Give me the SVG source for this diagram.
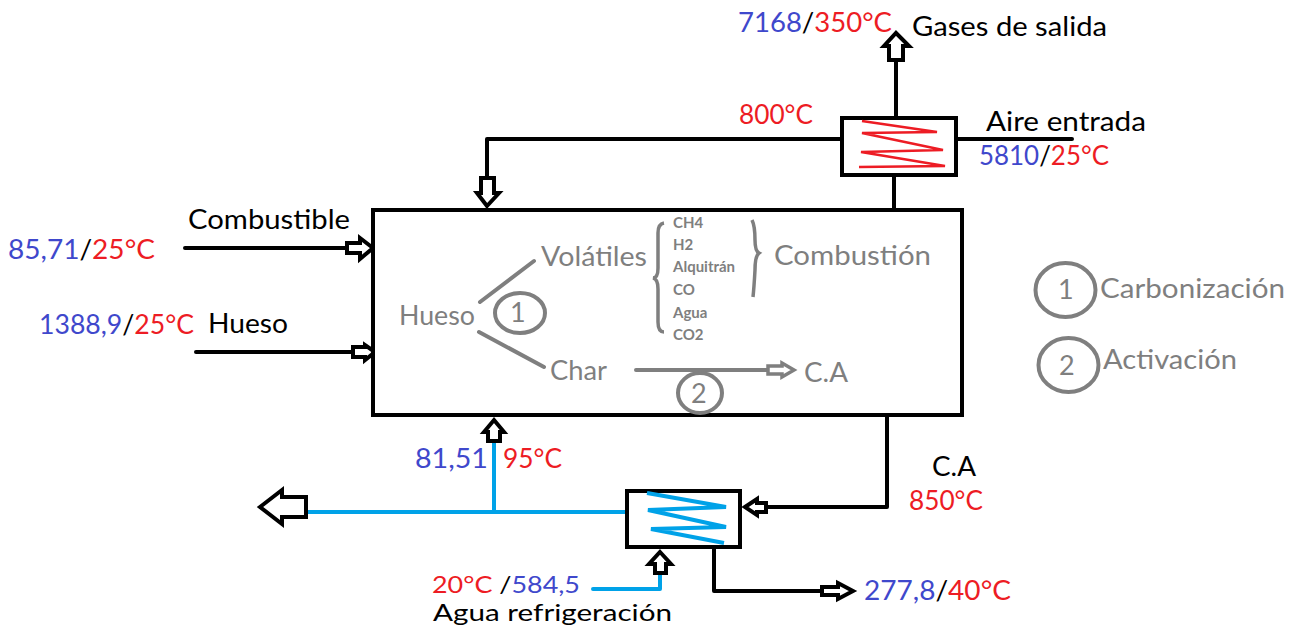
<svg xmlns="http://www.w3.org/2000/svg" width="1296" height="628" viewBox="0 0 1296 628">
<style>
text{font-family:"Lato","Carlito","Liberation Sans",sans-serif;font-size:27px;fill:#000}
.g{fill:#7f7f7f}.b{fill:#3f48cc}.r{fill:#ed1c24}.k{fill:#000}
.s{font-size:15px;font-weight:700;fill:#7f7f7f}
.t{font-size:24px}
.u{font-size:23px}
.p{fill:none;stroke:#000;stroke-width:4;stroke-linecap:round;stroke-linejoin:round}
.w{fill:none;stroke:#00a2e8;stroke-width:4;stroke-linejoin:round}
.y{fill:none;stroke:#7f7f7f;stroke-width:4;stroke-linecap:round}
.a{fill:#fff;stroke:#000;stroke-width:4;stroke-linejoin:miter}
.box{fill:#fff;stroke:#000;stroke-width:4}
.c{fill:none;stroke:#7f7f7f;stroke-width:4}
</style>
<rect width="1296" height="628" fill="#fff"/>
<g id="connectors">
<path class="p" d="M896 60V117"/>
<path class="p" d="M894 175V210"/>
<path class="p" d="M957 139H1072"/>
<path class="p" d="M841 139H487V178"/>
<path class="p" d="M185 248H347"/>
<path class="p" d="M196 352H353"/>
<path class="p" d="M887 415V507H766"/>
<path class="p" d="M714 548V591H822"/>
<path class="w" d="M305 512H626"/>
<path class="w" d="M494 441V512"/>
<path class="w" d="M593 589H660V573" stroke-linecap="round"/>
<polygon class="a" points="896,33 909,46 903,46 903,60 889,60 889,46 884,46"/>
<polygon class="a" points="487,206 477,193 481,193 481,178 494,178 494,193 499,193"/>
<polygon class="a" points="373,248 360,238 360,243 347,243 347,253 360,253 360,259"/>
<polygon class="a" points="375,352 365,345 365,347 353,347 353,357 365,357 365,360"/>
<polygon class="a" points="494,420 504,432 500,432 500,441 488,441 488,432 484,432"/>
<polygon class="a" points="260,507 282,490 282,497 306,497 306,517 282,517 282,524"/>
<polygon class="a" points="745,507 757,499 757,503 766,503 766,512 757,512 757,515"/>
<polygon class="a" points="660,552 671,564 666,564 666,573 655,573 655,564 649,564"/>
<polygon class="a" points="853,591 838,583 838,587 822,587 822,595 838,595 838,599"/>
</g>
<g id="reactor">
<rect class="box" x="373" y="210" width="589" height="205"/>
<path class="y" d="M480 302L534 261M479 332L544 367M636 370H770"/>
<polygon points="794,370 782,363 782,366 768,366 768,374 782,374 782,377" fill="#fff" stroke="#7f7f7f" stroke-width="3.5"/>
<ellipse class="c" cx="520" cy="313" rx="25" ry="20"/>
<ellipse class="c" cx="700" cy="393" rx="22" ry="20"/>
<path d="M664 223Q658 224 658 233V268Q658 278 653 278Q658 279 658 289V322Q658 332 664 332" fill="none" stroke="#7f7f7f" stroke-width="3.5"/>
<path d="M752 220Q755 226 755 240Q755 251 759 253Q755 256 755 270Q754 288 753 297" fill="none" stroke="#7f7f7f" stroke-width="3.5"/>
<text class="g" x="399" y="325" textLength="76" lengthAdjust="spacingAndGlyphs">Hueso</text>
<text class="g" x="541" y="266" textLength="106" lengthAdjust="spacingAndGlyphs">Volátiles</text>
<text class="g" x="550" y="380" textLength="57" lengthAdjust="spacingAndGlyphs">Char</text>
<text class="g" x="804" y="382" textLength="44" lengthAdjust="spacingAndGlyphs">C.A</text>
<text class="g" x="774" y="265" textLength="157" lengthAdjust="spacingAndGlyphs">Combustión</text>
<text class="g" x="510" y="322">1</text>
<text class="g" x="691" y="403">2</text>
<text class="s" x="673" y="228">CH4</text>
<text class="s" x="673" y="250">H2</text>
<text class="s" x="673" y="272">Alquitrán</text>
<text class="s" x="673" y="295">CO</text>
<text class="s" x="673" y="318">Agua</text>
<text class="s" x="673" y="340">CO2</text>
</g>
<g id="hx-top">
<rect class="box" x="842" y="118" width="114" height="57"/>
<polyline points="862,121 937,132 862,133 943,150 861,152 945,166 859,167" fill="none" stroke="#ed1c24" stroke-width="2.5"/>
</g>
<g id="hx-bottom">
<rect class="box" x="627" y="491" width="113" height="56"/>
<polyline points="647,493 726,507 648,510 726,527 651,529 724,543" fill="none" stroke="#00a2e8" stroke-width="4"/>
</g>
<g id="legend">
<ellipse class="c" cx="1065.500" cy="290" rx="30" ry="27"/>
<ellipse class="c" cx="1068.500" cy="365" rx="30" ry="27"/>
<text class="g" x="1058" y="299">1</text>
<text class="g" x="1059" y="375">2</text>
<text class="g" x="1100" y="298" textLength="185" lengthAdjust="spacingAndGlyphs">Carbonización</text>
<text class="g" x="1103" y="369" textLength="134" lengthAdjust="spacingAndGlyphs">Activación</text>
</g>
<g id="labels">
<text x="738" y="32" textLength="154" lengthAdjust="spacingAndGlyphs"><tspan class="b">7168</tspan><tspan class="k">/</tspan><tspan class="r">350°C</tspan></text>
<text x="912" y="36" textLength="195" lengthAdjust="spacingAndGlyphs">Gases de salida</text>
<text class="r" x="739" y="124" textLength="74" lengthAdjust="spacingAndGlyphs">800°C</text>
<text x="986" y="131" textLength="160" lengthAdjust="spacingAndGlyphs">Aire entrada</text>
<text x="979" y="165" textLength="130" lengthAdjust="spacingAndGlyphs"><tspan class="b">5810</tspan><tspan class="k">/</tspan><tspan class="r">25°C</tspan></text>
<text x="188" y="229" textLength="162" lengthAdjust="spacingAndGlyphs">Combustible</text>
<text x="8" y="259" textLength="147" lengthAdjust="spacingAndGlyphs"><tspan class="b">85,71</tspan><tspan class="k">/</tspan><tspan class="r">25°C</tspan></text>
<text x="39" y="334" textLength="155" lengthAdjust="spacingAndGlyphs"><tspan class="b">1388,9</tspan><tspan class="k">/</tspan><tspan class="r">25°C</tspan></text>
<text x="208" y="333" textLength="80" lengthAdjust="spacingAndGlyphs">Hueso</text>
<text class="b" x="415" y="468" textLength="73" lengthAdjust="spacingAndGlyphs">81,51</text>
<text class="r" x="503" y="468" textLength="59" lengthAdjust="spacingAndGlyphs">95°C</text>
<text x="932" y="476" textLength="44" lengthAdjust="spacingAndGlyphs">C.A</text>
<text class="r" x="909" y="510" textLength="74" lengthAdjust="spacingAndGlyphs">850°C</text>
<text class="t" x="432" y="593" textLength="148" lengthAdjust="spacingAndGlyphs"><tspan class="r">20°C </tspan><tspan class="k">/</tspan><tspan class="b">584,5</tspan></text>
<text class="u" x="433" y="621" textLength="239" lengthAdjust="spacingAndGlyphs">Agua refrigeración</text>
<text x="864" y="600" textLength="147" lengthAdjust="spacingAndGlyphs"><tspan class="b">277,8</tspan><tspan class="k">/</tspan><tspan class="r">40°C</tspan></text>
</g>
</svg>
